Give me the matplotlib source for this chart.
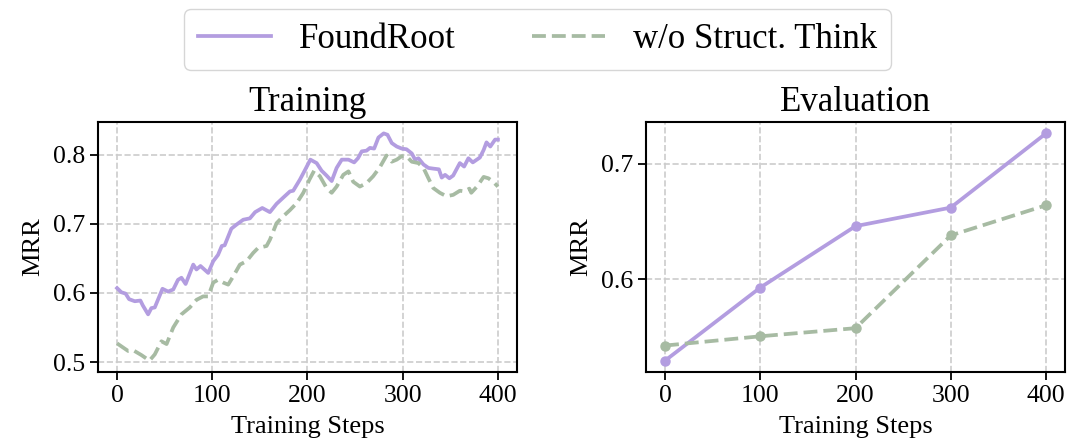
import matplotlib
matplotlib.use("Agg")
from matplotlib import pyplot as plt

plt.rcParams['font.family'] = ['Liberation Serif', 'DejaVu Serif']

# ---- training curves ----
train_steps_a = [0, 4.5, 9, 12.6, 18.6, 24.5, 27, 32.6, 36, 39.6, 47.7, 53.6, 59, 64, 67.6, 72,
                 80, 83.4, 87.6, 95.7, 101, 106, 110, 113, 120, 125.5, 132.5, 139.5, 145, 152.5,
                 160.5, 167.5, 174.5, 181.6, 185, 192, 197, 203, 209.6, 214.8, 220, 225.4, 230.6,
                 236, 243, 249, 253, 257, 262, 265.6, 270, 274.5, 280, 284, 288.5, 293.7, 299,
                 304, 309.5, 313, 316.5, 321.8, 327, 332, 338, 341, 344.5, 349, 353, 360, 364.5,
                 369, 373.6, 381, 385, 388, 392, 397, 400]
train_found = [0.607, 0.601, 0.599, 0.591, 0.588, 0.589, 0.582, 0.569, 0.578, 0.579, 0.606, 0.602,
               0.605, 0.619, 0.622, 0.613, 0.641, 0.634, 0.639, 0.629, 0.646, 0.655, 0.668, 0.669,
               0.693, 0.699, 0.706, 0.708, 0.717, 0.723, 0.717, 0.729, 0.738, 0.747, 0.748, 0.764,
               0.777, 0.793, 0.788, 0.777, 0.770, 0.762, 0.781, 0.793, 0.793, 0.789, 0.795, 0.805,
               0.806, 0.810, 0.809, 0.825, 0.831, 0.829, 0.817, 0.812, 0.809, 0.808, 0.802, 0.793,
               0.795, 0.786, 0.781, 0.780, 0.779, 0.767, 0.771, 0.766, 0.770, 0.788, 0.783, 0.795,
               0.789, 0.796, 0.807, 0.818, 0.812, 0.822, 0.822]

train_steps_b = [0, 6.3, 11.6, 17, 25.6, 34, 39.6, 46.6, 52, 59, 67.6, 76.4, 83.4, 90.4, 95.7, 101,
                 106, 111.5, 116.7, 122, 129, 136, 143, 148, 157, 160.5, 167.5, 174.5, 181.6, 188.6,
                 195.6, 202, 207, 213, 220, 225.4, 230.6, 237.6, 243, 248, 255, 262, 269, 276, 283,
                 288.5, 293.7, 299, 304, 309.5, 316.5, 321.8, 327, 332, 339, 346, 353, 360, 365,
                 370, 372, 378, 385, 390, 395, 400]
train_nostruct = [0.527, 0.521, 0.516, 0.517, 0.510, 0.502, 0.511, 0.530, 0.526, 0.550, 0.569,
                  0.579, 0.590, 0.595, 0.595, 0.615, 0.619, 0.615, 0.612, 0.624, 0.641, 0.646,
                  0.658, 0.665, 0.668, 0.677, 0.701, 0.711, 0.720, 0.730, 0.745, 0.764, 0.777,
                  0.769, 0.752, 0.745, 0.754, 0.771, 0.776, 0.761, 0.754, 0.759, 0.769, 0.782,
                  0.799, 0.790, 0.793, 0.798, 0.798, 0.790, 0.788, 0.781, 0.766, 0.752, 0.745,
                  0.740, 0.742, 0.748, 0.747, 0.751, 0.745, 0.754, 0.768, 0.766, 0.761, 0.754]

# ---- evaluation points ----
eval_steps = [0, 100, 200, 300, 400]
eval_found = [0.530, 0.593, 0.646, 0.662, 0.726]
eval_nostruct = [0.543, 0.551, 0.558, 0.638, 0.664]

purple = '#B39DE0'
green = '#A7BBA3'

fig = plt.figure(figsize=(10.69, 4.47), dpi=100)
ax1 = fig.add_axes([0.0917, 0.1678, 0.3919, 0.5592])
ax2 = fig.add_axes([0.6043, 0.1678, 0.3920, 0.5592])

l1, = ax1.plot(train_steps_a, train_found, color=purple, lw=2.7, label='FoundRoot')
l2, = ax1.plot(train_steps_b, train_nostruct, color=green, lw=2.7, ls='--', label='w/o Struct. Think')

ax2.plot(eval_steps, eval_found, color=purple, lw=2.7, marker='o', ms=6.5)
ax2.plot(eval_steps, eval_nostruct, color=green, lw=2.7, ls='--', marker='o', ms=6.5)

ax1.set_title('Training', fontsize=25, pad=8)
ax2.set_title('Evaluation', fontsize=25, pad=8)
ax1.set_yticks([0.5, 0.6, 0.7, 0.8])
ax2.set_yticks([0.6, 0.7])

for ax in (ax1, ax2):
    ax.set_xticks([0, 100, 200, 300, 400])
    ax.set_xlabel('Training Steps', fontsize=19, labelpad=6)
    ax.set_ylabel('MRR', fontsize=19, labelpad=6)
    ax.tick_params(labelsize=18.5, width=1.3, length=6)
    ax.grid(True, ls='--', color='#cccccc', lw=1.2)
    for s in ax.spines.values():
        s.set_linewidth(1.5)

fig.legend(handles=[l1, l2], loc='upper center', bbox_to_anchor=(0.503, 1.018), ncol=2,
           fontsize=25, handlelength=2.1, columnspacing=2.2, fancybox=True, edgecolor='#cccccc')

fig.savefig('out.png', dpi=100)
